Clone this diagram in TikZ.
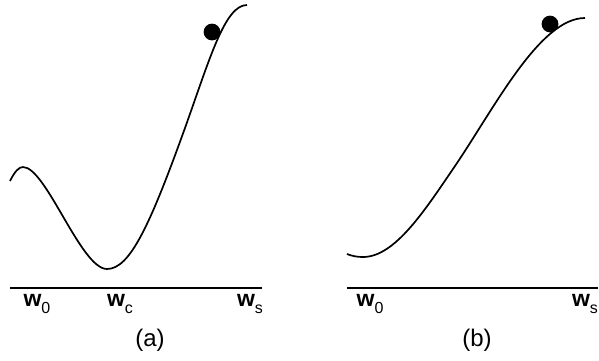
\documentclass[tikz,border=0pt]{standalone}
\usepackage{fontspec}
\setmainfont{Liberation Sans}
\newcommand\lowsub[1]{\raisebox{-7pt}{\fontsize{16}{16}\selectfont\mdseries #1}}
\begin{document}
\begin{tikzpicture}[x=1pt,y=-1pt,
  curve/.style={line width=1.7pt,line join=round},
  axis/.style={line width=1.4pt},
  ball/.style={fill=black,draw=none},
  lab/.style={inner sep=0pt,font=\fontsize{23}{23}\selectfont\bfseries},
  caplabel/.style={inner sep=0pt,font=\fontsize{24}{24}\selectfont}]
\useasboundingbox (0,0) rectangle (599,360);
% panel (a)
\draw[curve] (10,181) .. controls (15,171) and (19,167) .. (23,167)
  .. controls (46,167) and (81,269) .. (107,269)
  .. controls (130,269) and (150,225) .. (185,128)
  .. controls (210,58) and (225,5) .. (247,5);
\fill[ball] (212,32) circle (8.4pt);
\coordinate (a0) at (10,288);
\coordinate (a1) at (262,288);
\draw[axis] (a0) -- (a1);
\node[lab] (wa0) at (37,304) {w\lowsub{0}};
\node[lab] (wac) at (120,304) {w\lowsub{c}};
\node[lab] (was) at (250,304) {w\lowsub{s}};
\node[caplabel] (capa) at (150,340) {(a)};
% panel (b)
\draw[curve] (347,254) .. controls (352,256) and (357,257) .. (363,257)
  .. controls (395,257) and (425,210) .. (455,166)
  .. controls (495,107) and (540,18) .. (585,18);
\fill[ball] (550,24) circle (8.4pt);
\coordinate (b0) at (347,288);
\coordinate (b1) at (598,288);
\draw[axis] (b0) -- (b1);
\node[lab] (wb0) at (370,304) {w\lowsub{0}};
\node[lab] (wbs) at (585,304) {w\lowsub{s}};
\node[caplabel] (capb) at (477,340) {(b)};
\end{tikzpicture}
\end{document}
